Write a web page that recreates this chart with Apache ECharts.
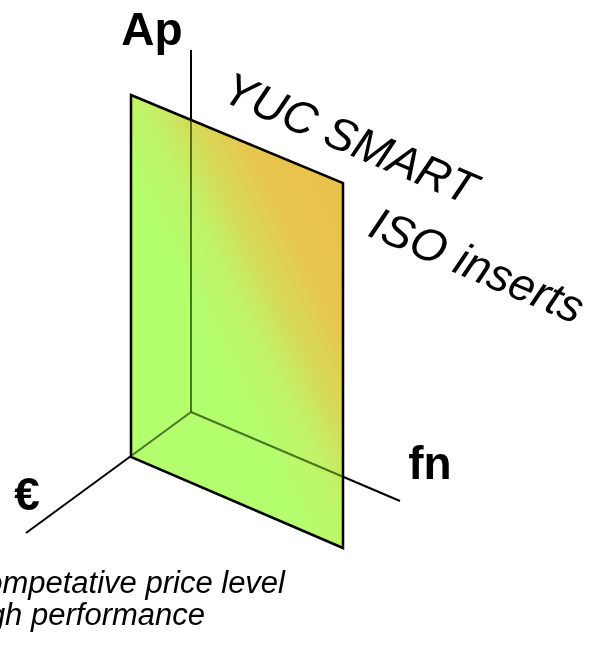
<!DOCTYPE html>
<html>
<head>
<meta charset="utf-8">
<script src="https://cdn.jsdelivr.net/npm/echarts@6/dist/echarts.min.js"></script>
<style>
html,body{margin:0;padding:0;background:#fff;}
#main{width:607px;height:646px;}
</style>
</head>
<body>
<div id="main"></div>
<script>
// ---- diagram data (drawing units, y grows downward) ----
const axisNames = ['Ap', 'fn', '€'];
const axisOrigin = [191, 412];
const axisEnds = [[191, 50], [400, 501], [26, 533]];
const axisLabelPos = [[152, 32], [430, 466], [27, 497]];
const planeCorners = [[131, 95], [343, 183], [343, 548], [131, 457]];
const planeColors = ['#b3ff6e', '#c3f066', '#d8d858', '#e7c64d', '#eac14b'];
const planeStops = [0, 0.3, 0.5, 0.75, 1];
const titleLines = ['YUC SMART', 'ISO inserts'];
const titlePos = [[349, 141], [476, 268]];
const notes = ['Competative price level', 'High performance'];
const notePos = [[285, 584], [205, 616]];

// segment from origin to where each axis leaves the plane (hidden behind plane)
function hiddenPart(o, e) {
  let best = 1;
  for (let i = 0; i < planeCorners.length; i++) {
    const a = planeCorners[i], b = planeCorners[(i + 1) % planeCorners.length];
    const rx = e[0] - o[0], ry = e[1] - o[1];
    const sx = b[0] - a[0], sy = b[1] - a[1];
    const den = rx * sy - ry * sx;
    if (Math.abs(den) < 1e-9) continue;
    const t = ((a[0] - o[0]) * sy - (a[1] - o[1]) * sx) / den;
    const u = ((a[0] - o[0]) * ry - (a[1] - o[1]) * rx) / den;
    if (t > 1e-6 && t <= 1 && u >= -1e-6 && u <= 1 + 1e-6 && t < best) best = t;
  }
  return [o[0], o[1], o[0] + best * (e[0] - o[0]), o[1] + best * (e[1] - o[1])];
}

const axisSegs = axisEnds.map(e => [axisOrigin[0], axisOrigin[1], e[0], e[1]]);
const hiddenSegs = axisEnds.map(e => hiddenPart(axisOrigin, e));

function segRender(color, width) {
  return function (params, api) {
    const p1 = api.coord([api.value(0), api.value(1)]);
    const p2 = api.coord([api.value(2), api.value(3)]);
    return {
      type: 'line',
      shape: { x1: p1[0], y1: p1[1], x2: p2[0], y2: p2[1] },
      style: { stroke: color, lineWidth: width, lineCap: 'butt' }
    };
  };
}

const FONT = '"Liberation Sans", Arial, sans-serif';
const textSeries = (names, pos, label) => ({
  type: 'scatter', z: 4, symbolSize: 0,
  itemStyle: { opacity: 1 },
  data: names.map((n, i) => ({ value: pos[i], name: n })),
  label: Object.assign({
    show: true, position: 'inside', formatter: '{b}', opacity: 1,
    color: '#000', fontFamily: FONT, verticalAlign: 'middle'
  }, label)
});

const chart = echarts.init(document.getElementById('main'), null, { renderer: 'canvas' });
chart.setOption({
  animation: false,
  backgroundColor: '#fff',
  grid: { left: 0, right: 0, top: 0, bottom: 0 },
  xAxis: { type: 'value', min: 0, max: 607, show: false },
  yAxis: { type: 'value', min: 0, max: 646, inverse: true, show: false },
  series: [
    {
      type: 'custom', name: 'axes', z: 1,
      renderItem: segRender('#000', 2),
      data: axisSegs
    },
    {
      type: 'custom', name: 'plane', z: 2,
      renderItem: function (params, api) {
        const pts = [];
        for (let i = 0; i < 4; i++) pts.push(api.coord([api.value(2 * i), api.value(2 * i + 1)]));
        return {
          type: 'polygon',
          shape: { points: pts },
          style: {
            fill: new echarts.graphic.LinearGradient(-0.148, 0.034, 0.527, -0.123,
              planeColors.map((c, i) => ({ offset: planeStops[i], color: c }))),
            stroke: '#000', lineWidth: 2.5, lineJoin: 'miter'
          }
        };
      },
      data: [planeCorners.flat()]
    },
    {
      type: 'custom', name: 'hidden', z: 3,
      renderItem: segRender('rgba(30,60,0,0.7)', 2),
      data: hiddenSegs
    },
    textSeries(axisNames, axisLabelPos, { fontWeight: 'bold', fontSize: 46, align: 'center' }),
    textSeries(titleLines, titlePos, { fontStyle: 'italic', fontSize: 46, align: 'center', rotate: -23 }),
    textSeries(notes, notePos, { fontStyle: 'italic', fontSize: 31, align: 'right' })
  ]
});
</script>
</body>
</html>
